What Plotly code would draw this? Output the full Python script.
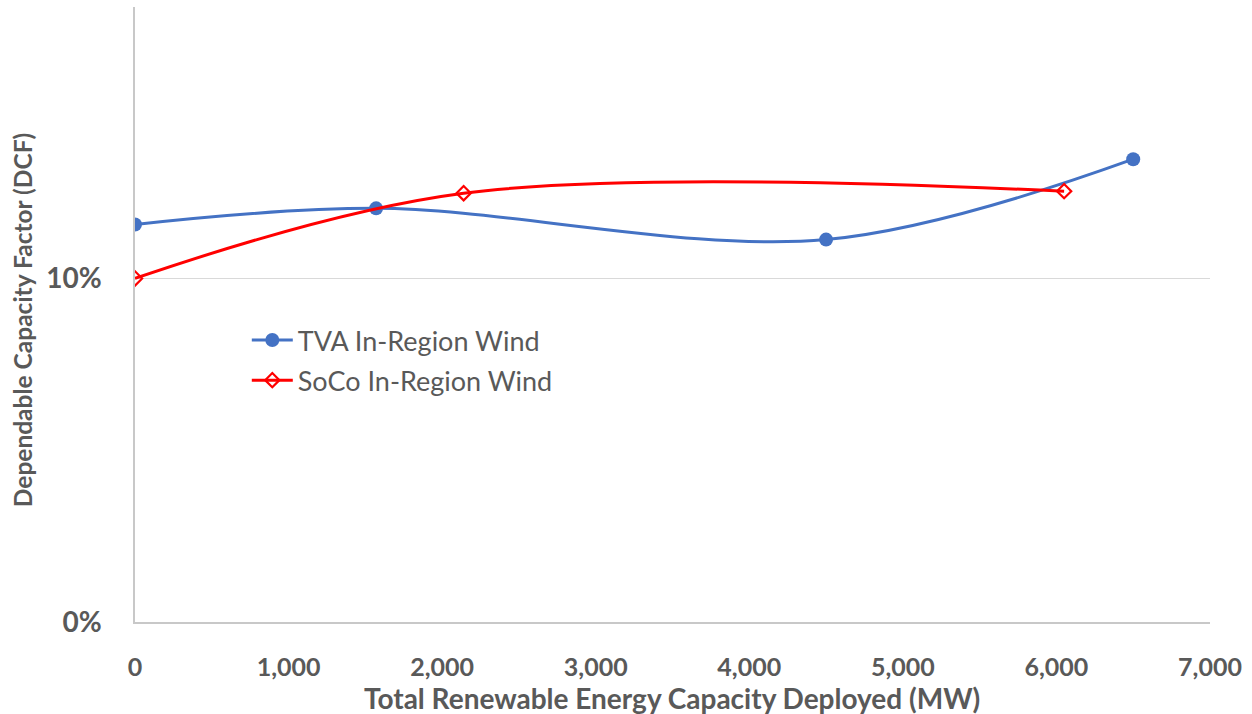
import plotly.graph_objects as go

# Renewable capacity deployed (MW) and dependable capacity factor (fraction)
tva_mw = [0, 1570, 4500, 6500]
tva_dcf = [0.1157, 0.1204, 0.1113, 0.1347]

soco_mw = [0, 2140, 6050]
soco_dcf = [0.1000, 0.1248, 0.1254]

y_tickvals = [0, 0.1]
y_ticktext = ["0%", "10%"]
x_tickvals = [0, 1000, 2000, 3000, 4000, 5000, 6000, 7000]
x_ticktext = ["0", "1,000", "2,000", "3,000", "4,000", "5,000", "6,000", "7,000"]

GRAY_TEXT = "#595959"
FONT = "Lato"

fig = go.Figure()

fig.add_trace(go.Scatter(
    x=tva_mw, y=tva_dcf, name="TVA In-Region Wind", legendgroup="tva",
    mode="lines+markers",
    line=dict(color="#4472C4", width=3, shape="spline", smoothing=1),
    marker=dict(symbol="circle", size=14, color="#4472C4"),
))
fig.add_trace(go.Scatter(
    x=soco_mw, y=soco_dcf, name="SoCo In-Region Wind", legendgroup="soco",
    mode="lines+markers",
    line=dict(color="#FF0000", width=3, shape="spline", smoothing=1),
    marker=dict(symbol="diamond-open", size=11, color="#FF0000",
                line=dict(width=2.2, color="#FF0000")),
))

fig.update_layout(
    width=1252, height=714,
    margin=dict(l=135, r=42, t=7, b=92),
    plot_bgcolor="white", paper_bgcolor="white",
    showlegend=True,
    legend=dict(
        x=0.104, y=0.4976, xanchor="left", yanchor="top",
        font=dict(family=FONT, size=27, color=GRAY_TEXT),
        bgcolor="rgba(0,0,0,0)", tracegroupgap=2, itemwidth=41,
    ),
    xaxis=dict(
        range=[0, 7000], tickvals=x_tickvals, ticktext=x_ticktext,
        showgrid=False, zeroline=False,
        showline=True, linecolor="#C8C8C8", linewidth=1.5,
        ticks="", ticklabelstandoff=22,
        tickfont=dict(family=FONT, size=25, color=GRAY_TEXT, weight="bold"),
    ),
    yaxis=dict(
        range=[0, 0.179], tickvals=y_tickvals, ticktext=y_ticktext,
        showgrid=True, gridcolor="#D9D9D9", gridwidth=1,
        zeroline=False,
        showline=True, linecolor="#C8C8C8", linewidth=1.5,
        ticks="", ticklabelstandoff=26,
        tickfont=dict(family=FONT, size=28, color=GRAY_TEXT, weight="bold"),
    ),
    annotations=[
        dict(text="Total Renewable Energy Capacity Deployed (MW)",
             xref="paper", yref="paper", x=0.4995, y=-0.1236,
             xanchor="center", yanchor="middle", showarrow=False,
             font=dict(family=FONT, size=28, color=GRAY_TEXT, weight="bold")),
        dict(text="Dependable Capacity Factor (DCF)",
             xref="paper", yref="paper", x=-0.105, y=0.491,
             xanchor="center", yanchor="middle", showarrow=False, textangle=-90,
             font=dict(family=FONT, size=24.5, color=GRAY_TEXT, weight="bold")),
    ],
)

fig.write_html("out.html")
